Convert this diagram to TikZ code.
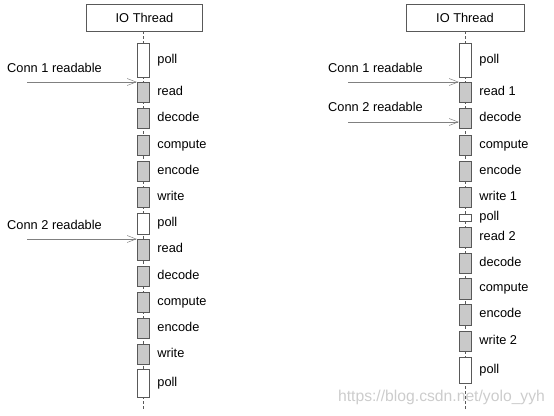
\documentclass[tikz,border=0pt]{standalone}
\usepackage{fontspec}
\setmainfont{Liberation Sans}
\usetikzlibrary{arrows.meta, positioning, backgrounds}
\definecolor{boxgrey}{rgb}{0.79, 0.79, 0.79}
\definecolor{edgegrey}{rgb}{0.35, 0.35, 0.35}

\begin{document}
\begin{tikzpicture}[x=1bp, y=-1bp,
    thread/.style = {draw=edgegrey, minimum width=116bp, minimum height=27bp, inner sep=0pt},
    busy/.style = {draw=edgegrey, fill=boxgrey, minimum width=12bp, inner sep=0pt},
    idle/.style = {draw=edgegrey, fill=white, minimum width=12bp, inner sep=0pt},
    step label/.style = {inner sep=0pt, text height=9bp, text depth=2.5bp},
    lifeline/.style = {draw=edgegrey, line width=0.5pt, dash pattern=on 3bp off 2bp},
    event/.style = {draw=gray, line width=0.5pt, -{Straight Barb[length=9bp, width=7bp]}}]
  \useasboundingbox (0,0) rectangle (554,415);
  \begin{scope}[every node/.style = {font=\fontsize{12.8bp}{15bp}\selectfont}]
    \node[thread] (T1) at (144.5,17.5) {IO Thread};
    \node[thread, minimum width=118bp] (T2) at (465,17.5) {IO Thread};
    % one request after the other
    \foreach \n/\y/\h/\s/\t in {1/60/34/idle/poll, 2/92.5/20/busy/read, 3/118/20/busy/decode,
        4/145/20/busy/compute, 5/171/20/busy/encode, 6/197/20/busy/write, 7/223.5/21/idle/poll,
        8/249.5/21/busy/read, 9/276/20/busy/decode, 10/302/20/busy/compute,
        11/328/20/busy/encode, 12/354/20/busy/write, 13/383/28/idle/poll}{
      \node[\s, minimum height=\h bp] (A\n) at (143,\y) {};
      \node[step label, right=8bp of A\n] (LA\n) {\t};
    }
    % second request waits in the loop
    \foreach \n/\y/\h/\s/\t in {1/60/34/idle/poll, 2/92.5/20/busy/read 1, 3/118/20/busy/decode,
        4/145/20/busy/compute, 5/171/20/busy/encode, 6/197/20/busy/write 1, 7/217.5/7/idle/poll,
        8/237/20/busy/read 2, 9/263/20/busy/decode, 10/288.5/21/busy/compute,
        11/314.5/21/busy/encode, 12/341/20/busy/write 2, 13/370/26/idle/poll}{
      \node[\s, minimum height=\h bp] (B\n) at (465,\y) {};
      \node[step label, right=8bp of B\n] (LB\n) {\t};
    }
    \begin{scope}[on background layer]
      \coordinate (D1) at (143,410);
      \coordinate (D2) at (465,410);
      \draw[lifeline] (T1.south -| A1) -- (D1);
      \draw[lifeline] (T2.south -| B1) -- (D2);
    \end{scope}
    % incoming events
    \node[step label, anchor=west] (E1) at (7,69) {Conn 1 readable};
    \node[step label, anchor=west] (E2) at (7,226) {Conn 2 readable};
    \node[step label, anchor=west] (E3) at (328,69) {Conn 1 readable};
    \node[step label, anchor=west] (E4) at (328,108) {Conn 2 readable};
    \coordinate (S1) at (27,82);
    \coordinate (S2) at (27,239);
    \coordinate (S3) at (348,82);
    \coordinate (S4) at (348,122);
    \draw[event] (S1) -- (S1 -| A2.west);
    \draw[event] (S2) -- (S2 -| A8.west);
    \draw[event] (S3) -- (S3 -| B2.west);
    \draw[event] (S4) -- (S4 -| B3.west);
    \node[inner sep=0pt, text=gray, text opacity=0.4, font=\fontsize{15.7bp}{18bp}\selectfont]
      (W) at (441.5,397) {https://blog.csdn.net/yolo\_yyh};
  \end{scope}
\end{tikzpicture}
\end{document}
